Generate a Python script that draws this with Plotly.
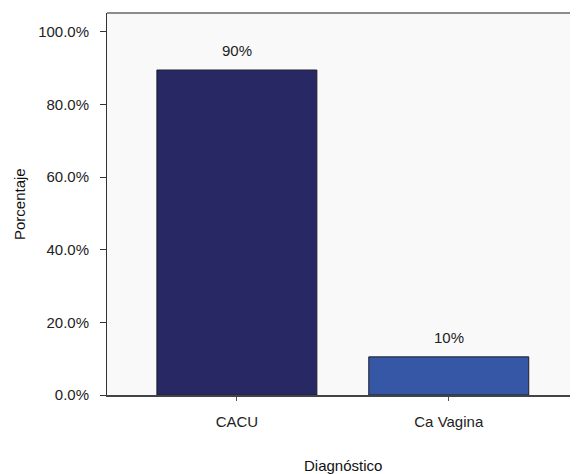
import plotly.graph_objects as go

categories = ["CACU", "Ca Vagina"]
values = [89.5, 10.5]
labels = ["90%", "10%"]
colors = ["#272864", "#3657a5"]
y_ticks = [0, 20, 40, 60, 80, 100]
y_tick_text = ["0.0%", "20.0%", "40.0%", "60.0%", "80.0%", "100.0%"]

FONT = "Liberation Sans, Arial, sans-serif"

fig = go.Figure()
fig.add_trace(go.Bar(
    x=categories, y=values,
    marker=dict(color=colors, line=dict(color="#1e1e2a", width=1)),
    width=0.755,
))

for c, v, t in zip(categories, values, labels):
    fig.add_annotation(x=c, y=v, text=t, showarrow=False, yanchor="bottom",
                       yshift=9, font=dict(family=FONT, size=15, color="#222"))

fig.add_annotation(xref="paper", yref="paper", x=0.5, y=0, yanchor="middle",
                   yshift=-70, text="Diagnóstico", showarrow=False,
                   font=dict(family=FONT, size=15, color="#111"))
fig.add_annotation(xref="paper", yref="paper", x=0, y=0.5, xanchor="center",
                   xshift=-88, textangle=-90, text="Porcentaje", showarrow=False,
                   font=dict(family=FONT, size=15, color="#111"))

# page body has an 8px default margin, so the figure is shrunk by 8px
fig.update_layout(
    width=570, height=466,
    margin=dict(l=99, r=0, t=5, b=79),
    paper_bgcolor="white", plot_bgcolor="#f9f9f9",
    font=dict(family=FONT, size=15, color="#222"),
    showlegend=False,
    xaxis=dict(
        range=[-0.613, 1.61], showgrid=False, zeroline=False, automargin=False,
        showline=True, linecolor="#444", linewidth=1.5,
        ticks="outside", ticklen=4, tickcolor="#555",
        ticklabelstandoff=8,
    ),
    yaxis=dict(
        range=[0, 105.2], tickvals=y_ticks, ticktext=y_tick_text,
        showgrid=False, zeroline=False, automargin=False,
        showline=True, linecolor="#333", linewidth=1,
        ticks="outside", ticklen=6, tickcolor="#333",
        ticklabelstandoff=8,
    ),
    shapes=[dict(type="line", xref="paper", yref="paper", x0=0, x1=1, y0=1, y1=1,
                 line=dict(color="#8c8c88", width=2))],
)

fig.write_html("out.html")
